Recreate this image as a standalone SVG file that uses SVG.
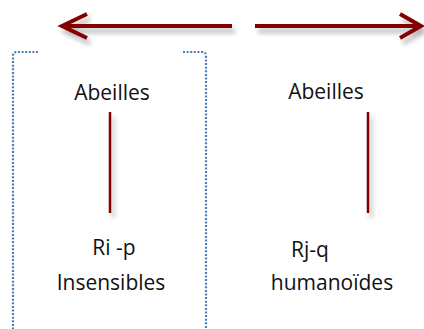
<svg xmlns="http://www.w3.org/2000/svg" width="424" height="329" viewBox="0 0 424 329">
<style>
.t{font-family:"Open Sans","Noto Sans",sans-serif;font-size:21px;fill:#111}
.ar{stroke:#840000;stroke-width:4;fill:none;stroke-linecap:butt}
.ln{stroke:#840000;stroke-width:2.5;fill:none}
.br{stroke:#4A7EBB;stroke-width:2.2;stroke-dasharray:2 1.6;fill:none}
</style>
<defs>
<filter id="sh" filterUnits="userSpaceOnUse" x="0" y="0" width="424" height="329">
<feGaussianBlur in="SourceAlpha" stdDeviation="2.5"/>
<feOffset dx="3" dy="5"/>
<feComponentTransfer><feFuncA type="linear" slope="0.3"/></feComponentTransfer>
<feMerge><feMergeNode/><feMergeNode in="SourceGraphic"/></feMerge>
</filter>
</defs>
<g id="connectors">
<g filter="url(#sh)">
<path class="ar" d="M232 26 H62 M87 14 L62 26 L87 38"/>
<path class="ar" d="M255 26 H421 M400 14 L421 26 L400 38"/>
<path class="ln" d="M110 112 V213"/>
<path class="ln" d="M368 112 V213"/>
</g>
</g>
<g id="bracket-left">
<path class="br" d="M38 52 H17 Q13 52 13 56 V329"/>
</g>
<g id="bracket-right">
<path class="br" d="M183 52 H202 Q206 52 206 56 V329"/>
</g>
<g id="node-left">
<text class="t" x="112" y="100" text-anchor="middle">Abeilles</text>
<text class="t" x="114" y="255" text-anchor="middle">Ri -p</text>
<text class="t" x="111" y="290" text-anchor="middle">Insensibles</text>
</g>
<g id="node-right">
<text class="t" x="326" y="99" text-anchor="middle">Abeilles</text>
<text class="t" x="291" y="257">Rj-q</text>
<text class="t" x="332" y="290" text-anchor="middle">humanoïdes</text>
</g>
</svg>
